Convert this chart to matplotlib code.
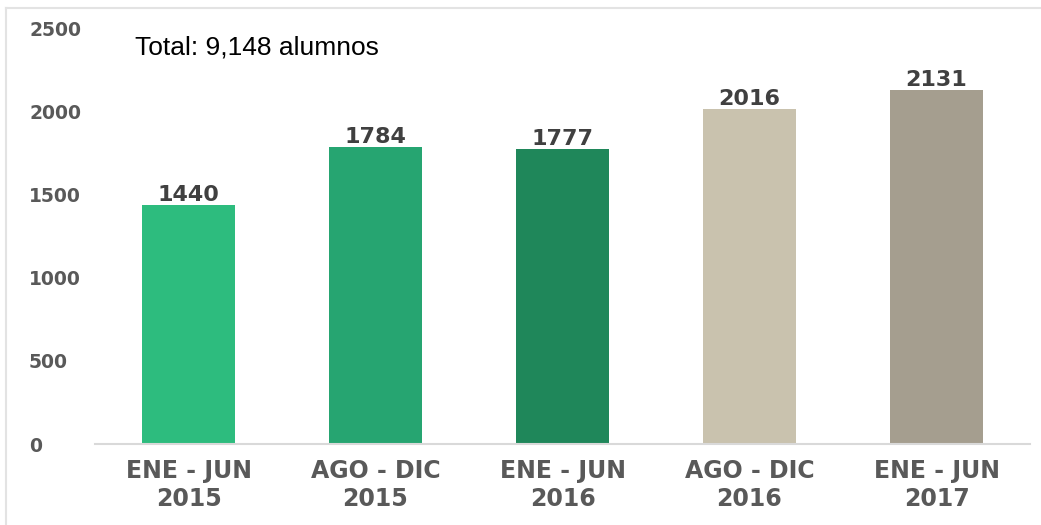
import matplotlib
matplotlib.use("Agg")
import matplotlib.pyplot as plt
from matplotlib.lines import Line2D

categories = ["ENE - JUN\n2015", "AGO - DIC\n2015", "ENE - JUN\n2016", "AGO - DIC\n2016", "ENE - JUN\n2017"]
values = [1440, 1784, 1777, 2016, 2131]
bar_colors = ["#2DBC7E", "#26A571", "#1F875A", "#C9C2AE", "#A59E8F"]
yticks = [0, 500, 1000, 1500, 2000, 2500]
total_text = "Total: 9,148 alumnos"

W, H = 1041, 525
fig = plt.figure(figsize=(W / 100, H / 100), dpi=100)
ax = fig.add_axes([95 / W, (H - 444) / H, (1030 - 95) / W, (444 - 28.5) / H])

x = list(range(len(values)))
bars = ax.bar(x, values, width=0.5, color=bar_colors, zorder=2)
ax.set_xlim(-0.5, len(values) - 0.5)
ax.set_ylim(0, 2500)

for xi, v in zip(x, values):
    ax.annotate(str(v), (xi, v), xytext=(0, 0), textcoords="offset points",
                ha="center", va="bottom", fontsize=16, fontweight="bold",
                color="#404040", family="DejaVu Sans")

for s in ["top", "right", "left"]:
    ax.spines[s].set_visible(False)
ax.spines["bottom"].set_color("#D9D9D9")
ax.spines["bottom"].set_linewidth(1.5)

ax.set_xticks(x)
ax.set_xticklabels(categories, fontsize=17, fontweight="bold", color="#595959",
                   family="DejaVu Sans", linespacing=1.17)
ax.tick_params(axis="x", length=0, pad=11)

ax.set_yticks(yticks)
ax.set_yticklabels([str(t) for t in yticks], fontsize=13.5, fontweight="bold",
                   color="#595959", family="DejaVu Sans")
ax.tick_params(axis="y", length=0, pad=(95 - 29) * 0.72)
for lab in ax.get_yticklabels():
    lab.set_horizontalalignment("left")

fig.text(135 / W, (H - 54) / H, total_text, fontsize=19, color="#000000",
         family="Liberation Sans", ha="left", va="baseline")

# light frame lines (left and top)
fig.add_artist(Line2D([6 / W, 6 / W], [0, (H - 8) / H], transform=fig.transFigure,
                      color="#E3E3E3", linewidth=1.5))
fig.add_artist(Line2D([6 / W, 1], [(H - 8) / H, (H - 8) / H], transform=fig.transFigure,
                      color="#E3E3E3", linewidth=1.5))

fig.savefig("out.png", dpi=100)
